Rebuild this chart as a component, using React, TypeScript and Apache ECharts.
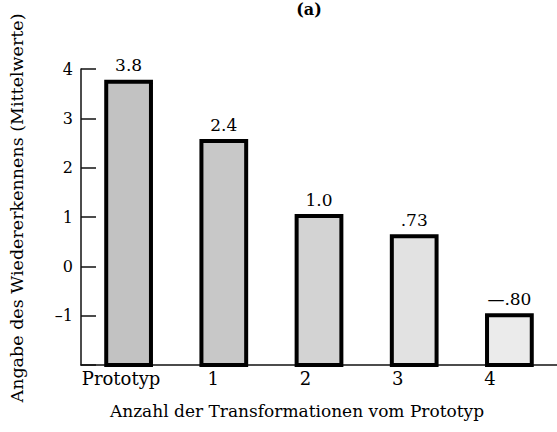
import React, { useEffect, useRef } from "react";
import * as echarts from "echarts";

const categories = ["Prototyp", "1", "2", "3", "4"];
// bar heights as drawn in the figure
const barHeights = [3.74, 2.54, 1.02, 0.61, -0.99];
// printed value labels above the bars
const valueLabels = ["3.8", "2.4", "1.0", ".73", "\u2014.80"];
const barFills = ["#c2c2c2", "#c8c8c8", "#d3d3d3", "#e2e2e2", "#ebebeb"];

const yTitle = "Angabe des Wiedererkennens (Mittelwerte)";
const xTitle = "Anzahl der Transformationen vom Prototyp";
const panelTitle = "(a)";

const FONT = "'DejaVu Serif', 'Liberation Serif', serif";

export default function App() {
  const ref = useRef<HTMLDivElement>(null);
  useEffect(() => {
    if (!ref.current) return;
    const chart = echarts.init(ref.current, null, { renderer: "svg" });
    const data = barHeights.map((v, i) => [i, v]);
    chart.setOption({
      animation: false,
      backgroundColor: "#ffffff",
      grid: [
        { left: 81, top: 69, width: 489, height: 296 },
        { left: 75, top: 69, width: 461, height: 296 },
      ],
      xAxis: [
        {
          type: "category",
          gridIndex: 0,
          data: categories,
          axisLine: { show: true, onZero: false, lineStyle: { color: "#111", width: 1.5 } },
          axisTick: { show: false },
          axisLabel: { show: false },
          splitLine: { show: false },
        },
        {
          type: "category",
          gridIndex: 1,
          data: categories,
          axisLine: { show: false, onZero: false },
          axisTick: { show: false },
          axisLabel: { show: true, interval: 0, color: "#000", fontFamily: FONT, fontSize: 18, margin: 4 },
          splitLine: { show: false },
        },
      ],
      yAxis: [
        {
          type: "value",
          gridIndex: 0,
          min: -2,
          max: 4,
          interval: 1,
          axisLine: { show: true, lineStyle: { color: "#111", width: 1.5 } },
          axisTick: { show: true, inside: true, length: 15, lineStyle: { color: "#111", width: 1.5 } },
          axisLabel: {
            color: "#000",
            fontFamily: FONT,
            fontSize: 16,
            margin: 8,
            formatter: (v: number) => (v <= -2 ? "" : v < 0 ? "\u2013" + Math.abs(v) : String(v)),
          },
          splitLine: { show: false },
        },
        {
          type: "value",
          gridIndex: 1,
          min: -2,
          max: 4,
          show: false,
        },
      ],
      graphic: [
        {
          type: "text",
          x: 309,
          y: 9,
          style: {
            text: panelTitle,
            fontFamily: FONT,
            fontSize: 16,
            fontWeight: "bold",
            fill: "#000",
            textAlign: "center",
            textVerticalAlign: "middle",
          },
        },
        {
          type: "text",
          x: 17,
          y: 208,
          rotation: Math.PI / 2,
          style: {
            text: yTitle,
            fontFamily: FONT,
            fontSize: 17.5,
            fill: "#000",
            textAlign: "center",
            textVerticalAlign: "middle",
          },
        },
        {
          type: "text",
          x: 297,
          y: 411,
          style: {
            text: xTitle,
            fontFamily: FONT,
            fontSize: 17,
            fill: "#000",
            textAlign: "center",
            textVerticalAlign: "middle",
          },
        },
      ],
      series: [
        {
          type: "custom",
          xAxisIndex: 0,
          yAxisIndex: 0,
          data,
          renderItem: (params: any, api: any) => {
            const idx = params.dataIndex;
            const x = api.value(0);
            const v = api.value(1);
            const top = api.coord([x, v]);
            const base = api.coord([x, -2]);
            const w = api.size([1, 0])[0] * 0.47;
            return {
              type: "group",
              children: [
                {
                  type: "rect",
                  shape: { x: top[0] - w / 2, y: top[1], width: w, height: base[1] - top[1] },
                  style: { fill: barFills[idx], stroke: "#000", lineWidth: 4 },
                },
                {
                  type: "text",
                  x: top[0],
                  y: top[1] - 8,
                  style: {
                    text: valueLabels[idx],
                    fontFamily: FONT,
                    fontSize: 17,
                    fill: "#000",
                    textAlign: "center",
                    textVerticalAlign: "bottom",
                  },
                },
              ],
            };
          },
        },
      ],
    });
    return () => chart.dispose();
  }, []);
  return <div ref={ref} style={{ width: 557, height: 432, position: "absolute", left: 0, top: 0 }} />;
}
